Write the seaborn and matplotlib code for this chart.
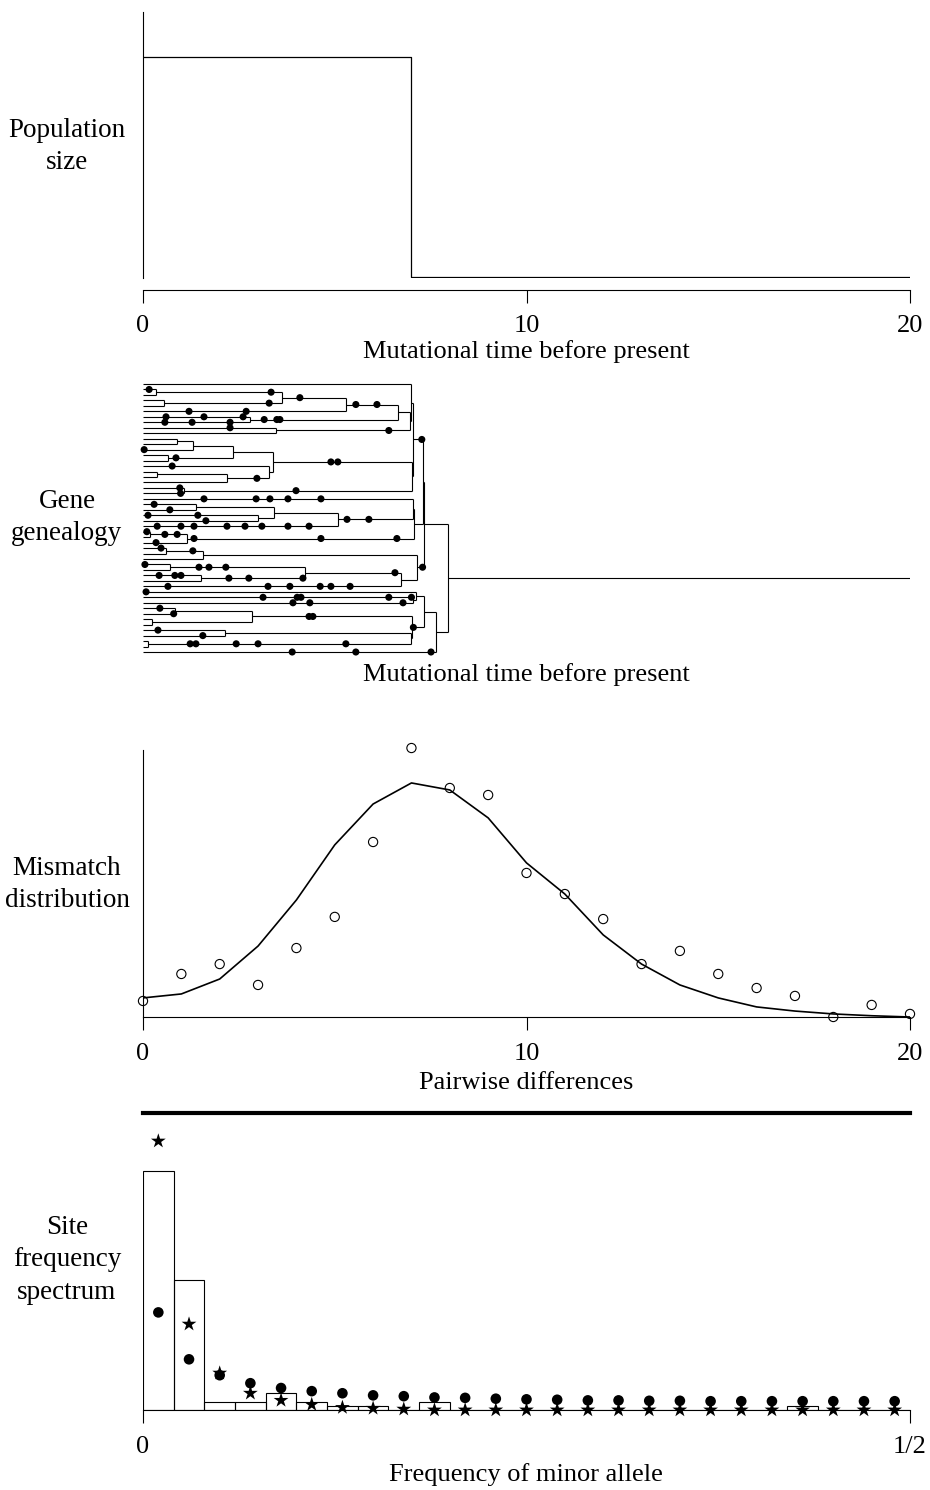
import numpy as np
import pandas as pd
import matplotlib
matplotlib.use("Agg")
import matplotlib.pyplot as plt
from matplotlib.collections import LineCollection
import seaborn as sns

# ---------------- data ----------------
# Panel 1: population size history (step at mutational time 7)
pop_time = [0, 7, 20]
pop_size = [1.0, 0.0, 0.0]

# Panel 2: gene genealogy (50 leaves, ordered top to bottom; internal node k has id 50+k)
n_leaves = 50
merge_left = [1, 3, 50, 52, 6, 53, 8, 10, 57, 13, 58, 16, 61, 15, 60, 19, 55, 0, 64, 67,
              22, 24, 70, 72, 21, 27, 75, 74, 30, 78, 33, 35, 80, 82, 79, 39, 38, 41, 43, 87,
              45, 47, 90, 89, 86, 94, 69, 96, 97]
merge_right = [2, 4, 51, 5, 7, 54, 9, 11, 12, 14, 59, 17, 18, 62, 63, 20, 56, 66, 65, 68,
               23, 25, 71, 26, 73, 28, 29, 76, 31, 32, 34, 36, 81, 37, 83, 40, 85, 42, 44, 88,
               46, 48, 91, 92, 93, 49, 77, 84, 95]
merge_time = [0.34, 0.55, 3.62, 5.29, 2.79, 6.65, 3.47, 0.89, 1.30, 0.65, 2.35, 0.37, 2.19,
              3.29, 3.39, 1.07, 6.96, 7.00, 7.02, 7.04, 1.38, 3.00, 3.42, 5.08, 7.04, 0.18,
              1.15, 7.07, 0.60, 1.56, 0.70, 1.51, 4.22, 6.73, 7.14, 7.04, 7.12, 0.83, 0.23,
              2.84, 2.14, 0.13, 6.99, 7.01, 7.33, 7.64, 7.30, 7.34, 7.95]
tree_tmax = 20
# mutations: branch (node id above which the branch lies) and time
mut_node = [1, 50, 51, 5, 5, 52, 6, 6, 6, 7, 7, 7, 54, 54, 54, 53, 53, 8, 56, 12, 59, 15,
            62, 64, 64, 19, 20, 65, 69, 21, 21, 21, 21, 21, 22, 23, 24, 24, 25, 26, 26, 26,
            26, 26, 26, 26, 26, 73, 73, 27, 75, 75, 29, 76, 76, 76, 30, 78, 33, 80, 80, 80,
            35, 35, 35, 81, 81, 81, 37, 37, 37, 37, 37, 37, 82, 84, 38, 39, 39, 39, 39, 39,
            40, 40, 40, 41, 42, 89, 89, 45, 46, 91, 91, 91, 91, 91, 93, 49, 49, 49]
mut_time = [0.16, 3.34, 3.29, 1.20, 2.69, 4.09, 0.60, 1.59, 2.61, 0.57, 1.28, 2.27, 3.16,
            3.49, 3.57, 5.55, 6.10, 2.27, 6.41, 0.03, 0.86, 0.76, 2.97, 4.90, 5.08, 0.96,
            0.98, 3.99, 7.27, 1.59, 2.95, 3.31, 3.78, 4.64, 0.29, 0.70, 0.13, 1.43, 1.64,
            0.37, 0.99, 1.33, 2.19, 2.66, 3.10, 3.78, 4.33, 5.32, 5.89, 0.10, 0.57, 0.89,
            0.34, 1.33, 4.64, 6.62, 0.47, 1.30, 0.05, 1.46, 1.72, 2.16, 0.42, 0.83, 0.99,
            2.24, 2.76, 4.17, 0.65, 3.26, 3.83, 4.62, 4.90, 5.40, 6.57, 7.29, 0.08, 3.13,
            4.02, 4.12, 6.41, 7.00, 3.91, 4.35, 6.78, 0.44, 0.80, 4.33, 4.43, 0.39, 1.56,
            1.23, 1.38, 2.43, 3.00, 5.29, 7.05, 3.89, 5.55, 7.51]

# Panel 3: mismatch distribution
mismatch_diff = list(range(21))
mismatch_expected = [0.0106, 0.0128, 0.0211, 0.0394, 0.0650, 0.0956, 0.1183, 0.1300, 0.1261,
                     0.1106, 0.0856, 0.0683, 0.0456, 0.0294, 0.0178, 0.0106, 0.0056, 0.0033,
                     0.0017, 0.0007, 0.0]
mismatch_observed = [0.0089, 0.0239, 0.0294, 0.0178, 0.0383, 0.0556, 0.0972, 0.1494, 0.1272,
                     0.1233, 0.0800, 0.0683, 0.0544, 0.0294, 0.0367, 0.0239, 0.0161, 0.0117,
                     0.0, 0.0067, 0.0017]

# Panel 4: folded site frequency spectrum (sample of 50)
sample_size = 50
sfs_count = list(range(1, 26))
sfs_observed = [57, 31, 2, 2, 4, 2, 1, 1, 0, 2, 0, 0, 0, 0, 0, 0, 0, 0, 0, 0, 0, 1, 0, 0, 0]
sfs_constant = [23.3, 12.1, 8.3, 6.4, 5.25, 4.5, 4.0, 3.5, 3.3, 3.0, 2.9, 2.7, 2.55, 2.45,
                2.3, 2.3, 2.2, 2.2, 2.1, 2.1, 2.1, 2.1, 2.1, 2.1, 2.1]
sfs_expansion = [64.2, 20.5, 8.8, 4.0, 2.3, 1.3, 0.6, 0.4, 0.2, 0, 0, 0, 0, 0, 0, 0, 0, 0,
                 0, 0, 0, 0, 0, 0, 0]

row_labels = ["Population\nsize", "Gene\ngenealogy", "Mismatch\ndistribution",
              "Site\nfrequency\nspectrum"]
x_labels = ["Mutational time before present", "Mutational time before present",
            "Pairwise differences", "Frequency of minor allele"]

# ---------------- style ----------------
sns.set_theme(style="white")
plt.rcParams["font.family"] = ["Liberation Serif", "DejaVu Serif"]
plt.rcParams["axes.edgecolor"] = "black"
plt.rcParams["axes.linewidth"] = 0.8
plt.rcParams["xtick.color"] = "black"
plt.rcParams["text.color"] = "black"

W, H = 930, 1490
fig = plt.figure(figsize=(W / 100, H / 100), dpi=100)
FS = 19


def rect(x0, y0, x1, y1):
    return [x0 / W, 1 - y1 / H, (x1 - x0) / W, (y1 - y0) / H]


def ftext(x, y, s, ls=1.15, size=FS):
    fig.text(x / W, 1 - y / H, s, ha="center", va="center", fontsize=size,
             multialignment="center", linespacing=ls)


def style_xaxis(ax):
    ax.tick_params(axis="x", direction="out", length=9.4, width=0.8, pad=9,
                   labelsize=FS, colors="black", bottom=True)
    ax.tick_params(axis="y", left=False, labelleft=False)
    ax.set_xlabel("")
    ax.set_ylabel("")


# ---- Panel 1: population size ----
ax1 = fig.add_axes(rect(143, 12, 910, 278))
sns.lineplot(x=pop_time, y=pop_size, drawstyle="steps-post", color="black",
             linewidth=0.9, ax=ax1)
ax1.set_xlim(0, 20)
ax1.set_ylim(-0.0045, 1.2036)
for s in ["top", "right"]:
    ax1.spines[s].set_visible(False)
ax1.spines["bottom"].set_position(("outward", 8.6))
ax1.set_xticks([0, 10, 20])
ax1.set_xticklabels(["0", "10", "20"])
style_xaxis(ax1)

# ---- Panel 2: genealogy ----
ax2 = fig.add_axes(rect(143, 380, 910, 656))
n_nodes = n_leaves + len(merge_left)
node_t = np.zeros(n_nodes)
node_y = np.zeros(n_nodes)
node_y[:n_leaves] = np.arange(n_leaves)
parent = np.full(n_nodes, -1)
for k, (a, b, t) in enumerate(zip(merge_left, merge_right, merge_time)):
    i = n_leaves + k
    node_t[i] = t
    node_y[i] = (node_y[a] + node_y[b]) / 2
    parent[a] = i
    parent[b] = i
segs = []
for i in range(n_nodes):
    p = parent[i]
    if p >= 0:
        segs.append([(node_t[i], node_y[i]), (node_t[p], node_y[i])])
for k, (a, b) in enumerate(zip(merge_left, merge_right)):
    i = n_leaves + k
    segs.append([(node_t[i], node_y[a]), (node_t[i], node_y[b])])
root = n_nodes - 1
segs.append([(node_t[root], node_y[root]), (tree_tmax, node_y[root])])
ax2.add_collection(LineCollection(segs, colors="black", linewidths=0.8))
mut_df = pd.DataFrame({"time": mut_time, "y": node_y[np.array(mut_node)]})
sns.scatterplot(data=mut_df, x="time", y="y", color="black", s=26, edgecolor="none",
                ax=ax2, zorder=3, clip_on=False)
ax2.set_xlim(0, 20)
ax2.set_ylim(n_leaves - 1 + 0.73, -0.73)
ax2.axis("off")

# ---- Panel 3: mismatch ----
ax3 = fig.add_axes(rect(143, 750, 910, 1017))
sns.lineplot(x=mismatch_diff, y=mismatch_expected, color="black", linewidth=1.2, ax=ax3)
sns.scatterplot(x=mismatch_diff, y=mismatch_observed, ax=ax3, s=44, marker="o",
                zorder=3, clip_on=False)
coll = ax3.collections[-1]
coll.set_facecolor("none")
coll.set_edgecolor("black")
coll.set_linewidth(0.8)
ax3.set_xlim(0, 20)
ax3.set_ylim(0, 0.1483)
for s in ["top", "right"]:
    ax3.spines[s].set_visible(False)
ax3.set_xticks([0, 10, 20])
ax3.set_xticklabels(["0", "10", "20"])
style_xaxis(ax3)

# ---- Panel 4: site frequency spectrum ----
ax4 = fig.add_axes(rect(143, 1113, 910, 1410))
centers = (np.array(sfs_count) - 0.5) / sample_size
sfs_df = pd.DataFrame({"x": centers, "observed": sfs_observed,
                       "constant": sfs_constant, "expansion": sfs_expansion})
sns.histplot(data=sfs_df, x="x", weights="observed", bins=len(sfs_count),
             binrange=(0, 0.5), fill=False, color="black", element="bars",
             linewidth=0.8, ax=ax4)
sns.scatterplot(data=sfs_df, x="x", y="constant", color="black", s=58, edgecolor="none",
                marker="o", ax=ax4, zorder=3, clip_on=False)
sns.scatterplot(data=sfs_df, x="x", y="expansion", color="black", s=125, edgecolor="none",
                marker="*", ax=ax4, zorder=4, clip_on=False)
ax4.set_xlim(0, 0.5)
ax4.set_ylim(0, 70.9)
ax4.spines["left"].set_visible(False)
ax4.spines["right"].set_visible(False)
ax4.spines["top"].set_linewidth(3.0)
ax4.set_xticks([0, 0.5])
ax4.set_xticklabels(["0", "1/2"])
style_xaxis(ax4)

# ---- text labels ----
LS = 1.42
ftext(67, 146.5, row_labels[0], ls=LS, size=19.5)
ftext(67, 517.5, row_labels[1], ls=LS, size=19.5)
ftext(67, 884.5, row_labels[2], ls=LS, size=19.5)
ftext(67, 1260, row_labels[3], ls=LS, size=19.5)
ftext(526, 352, x_labels[0])
ftext(526, 675, x_labels[1])
ftext(526, 1083, x_labels[2])
ftext(526, 1475, x_labels[3])

fig.savefig("out.png", dpi=100)
